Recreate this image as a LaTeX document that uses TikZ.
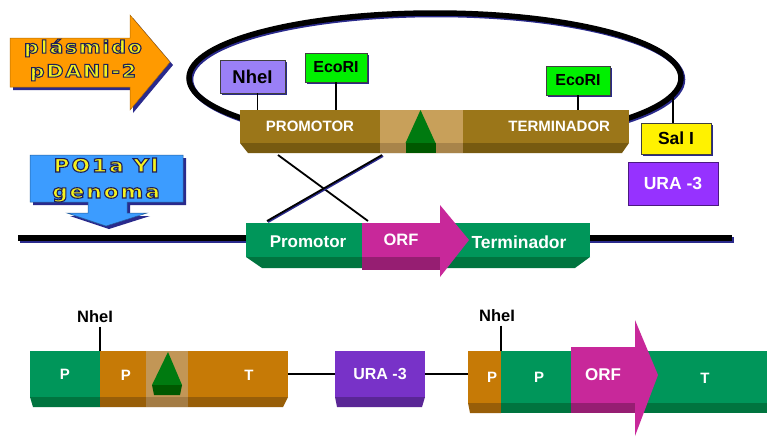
\documentclass[tikz,border=0pt]{standalone}
\usepackage{fontspec}
\setmainfont{Liberation Sans}
\newfontfamily\bannerfont[FakeStretch=1.18,LetterSpace=10]{DejaVu Sans}
\usetikzlibrary{shadows}
% yellow letters with a dark rim, set as one text
\newcommand{\rimtext}[1]{\special{pdf:literal direct 0.12 0.12 0.35 RG 1.1 w 2 Tr}#1\special{pdf:literal direct 0 Tr}}

\definecolor{arroworange}{HTML}{FF9A00}
\definecolor{arrowblue}{HTML}{3C9CFF}
\definecolor{shadowblue}{HTML}{2A2A8C}
\definecolor{banneryellow}{HTML}{F4F21E}
\definecolor{plasbrown}{HTML}{9B7619}
\definecolor{plasbevel}{HTML}{775A10}
\definecolor{plaslight}{HTML}{C8A05A}
\definecolor{plaslightbevel}{HTML}{A8844A}
\definecolor{cassbrown}{HTML}{C67A06}
\definecolor{cassbevel}{HTML}{985E08}
\definecolor{casslight}{HTML}{C29656}
\definecolor{casslightbevel}{HTML}{A47C44}
\definecolor{genegreen}{HTML}{00965A}
\definecolor{genebevel}{HTML}{00743F}
\definecolor{orfmag}{HTML}{C8289A}
\definecolor{orfbevel}{HTML}{961E72}
\definecolor{tridark}{HTML}{005800}
\definecolor{trigreen}{HTML}{007A10}
\definecolor{nhepurple}{HTML}{9A80F6}
\definecolor{ecogreen}{HTML}{00F000}
\definecolor{uratop}{HTML}{9632FF}
\definecolor{urabottom}{HTML}{7832C8}
\definecolor{urabevel}{HTML}{5A2696}

\begin{document}
\begin{tikzpicture}[x=1pt,y=-1pt]
\tikzset{
  segment/.style={rectangle,inner sep=0pt,outer sep=0pt,text=white,font=\bfseries\fontsize{15}{17}\selectfont},
  tagbox/.style={rectangle,draw=black!75,line width=0.6pt,inner sep=0pt,font=\bfseries\fontsize{16}{18}\selectfont,
    drop shadow={fill=shadowblue,shadow xshift=2pt,shadow yshift=-2pt,opacity=1}},
  tagline/.style={draw=black,line width=1.4pt},
  linker/.style={draw=black,line width=1.3pt},
  celltext/.style={text=white,font=\bfseries\fontsize{15}{17}\selectfont},
  sitetext/.style={text=black,font=\bfseries\fontsize{16.5}{18}\selectfont},
  bannertext/.style={text=banneryellow,align=center,font=\bannerfont\bfseries\fontsize{17.5}{24}\selectfont}
}
\useasboundingbox (0,0) rectangle (767,437);
\fill[white] (0,0) rectangle (767,437);

% banner arrows
\fill[shadowblue] (13,41) -- (133,41) -- (133,18) -- (173,65) -- (133,113) -- (133,90) -- (13,90) -- cycle;
\filldraw[fill=arroworange,draw=arroworange!70!black,line width=0.5pt]
  (10,38) -- (130,38) -- (130,15) -- (170,62) -- (130,110) -- (130,87) -- (10,87) -- cycle;
\node[bannertext] (n_plasmid) at (83,60) {\rimtext{plásmido}\\\rimtext{pDANI-2}};

\fill[shadowblue] (33,158) -- (186,158) -- (186,205) -- (130,205) -- (130,216) -- (150,216) -- (109,229) -- (70,216) -- (91,216) -- (91,205) -- (33,205) -- cycle;
\filldraw[fill=arrowblue,draw=arrowblue!60!black,line width=0.5pt]
  (30,155) -- (183,155) -- (183,202) -- (127,202) -- (127,213) -- (147,213) -- (106,226) -- (67,213) -- (88,213) -- (88,202) -- (30,202) -- cycle;
\node[bannertext,font=\bannerfont\bfseries\fontsize{18.5}{26}\selectfont] (n_genome) at (106,180) {\rimtext{PO1a Yl}\\\rimtext{genoma}};

% plasmid ring
\draw[shadowblue,line width=5.5pt] (436.5,79.5) ellipse [x radius=246,y radius=65];
\draw[black,line width=5.5pt] (435,78) ellipse [x radius=246,y radius=65];

% plasmid cassette
\node[segment,minimum width=140,minimum height=33,fill=plasbrown] (n_prom) at (310,126.5) {PROMOTOR};
\node[segment,minimum width=83,minimum height=33,fill=plaslight] (n_mid) at (421.5,126.5) {};
\node[segment,minimum width=166,minimum height=33,fill=plasbrown,text width=128,align=right,inner xsep=19] (n_term) at (546,126.5) {TERMINADOR};
\fill[plasbevel] (n_prom.south west) -- (n_term.south east) -- ([xshift=-7pt,yshift=-10pt]n_term.south east) -- ([xshift=8pt,yshift=-10pt]n_prom.south west) -- cycle;
\fill[plaslightbevel] (n_mid.south west) rectangle ([yshift=-10pt]n_mid.south east);
\fill[trigreen] ([xshift=-16pt]n_mid.south) -- ([xshift=14pt]n_mid.south) -- ([xshift=-1pt]n_mid.north) -- cycle;
\fill[tridark] ([xshift=-16pt]n_mid.south) rectangle ([xshift=14pt,yshift=-10pt]n_mid.south);

% restriction sites
\node[tagbox,fill=nhepurple,minimum width=65,minimum height=33,font=\bfseries\fontsize{18.5}{20}\selectfont] (n_nhe1) at (252.5,76.5) {NheI};
\node[tagbox,fill=ecogreen,minimum width=62,minimum height=29] (n_eco1) at (336,67.5) {EcoRI};
\node[tagbox,fill=ecogreen,minimum width=64,minimum height=29] (n_eco2) at (578,80.5) {EcoRI};
\node[tagbox,fill=yellow,minimum width=70,minimum height=31,font=\bfseries\fontsize{17.5}{19}\selectfont] (n_sal) at (676,138.5) {Sal I};
\node[segment,fill=uratop,draw=uratop!50!black,line width=0.6pt,minimum width=90,minimum height=43,font=\bfseries\fontsize{17.5}{19}\selectfont] (n_ura1) at (673,183.5) {URA -3};
\coordinate (n_salcut) at (673,95);
\draw[tagline] ([xshift=5pt]n_nhe1.south) -- ([xshift=5pt]n_nhe1.south |- n_prom.north);
\draw[tagline] (n_eco1.south) -- (n_eco1.south |- n_prom.north);
\draw[tagline] (n_eco2.south) -- (n_eco2.south |- n_term.north);
\draw[tagline] (n_salcut) -- (n_salcut |- n_sal.north);

% crossover
\coordinate (n_xa1) at (278,155);
\coordinate (n_xa2) at (368,221);
\coordinate (n_xb1) at (382,155);
\coordinate (n_xb2) at (267,221);
\draw[linker,line width=1.8pt] (n_xa1) -- (n_xa2);
\draw[shadowblue,line width=2pt] ([xshift=1pt,yshift=-1pt]n_xb1) -- ([xshift=1pt,yshift=-1pt]n_xb2);
\draw[linker,line width=1.8pt] (n_xb1) -- (n_xb2);

% genome
\coordinate (n_gl) at (18,238);
\coordinate (n_gr) at (732,238);
\draw[shadowblue,line width=6pt] ([xshift=1.5pt,yshift=-1.5pt]n_gl) -- ([xshift=1.5pt,yshift=-1.5pt]n_gr);
\draw[black,line width=6pt] (n_gl) -- (n_gr);
\node[segment,fill=genegreen,minimum width=344,minimum height=34] (n_gene) at (418,240) {};
\fill[genebevel] (n_gene.south west) -- (n_gene.south east) -- ([xshift=-15pt,yshift=-11pt]n_gene.south east) -- ([xshift=16pt,yshift=-11pt]n_gene.south west) -- cycle;
\node[segment,fill=orfmag,minimum width=78,minimum height=34,font=\bfseries\fontsize{16.5}{18}\selectfont] (n_gorf) at (401,240) {ORF};
\fill[orfbevel] (n_gorf.south west) rectangle ([yshift=-13pt]n_gorf.south east);
\fill[orfmag] ([yshift=18pt]n_gorf.north east) -- ([xshift=29pt]n_gorf.east) -- ([yshift=-20pt]n_gorf.south east) -- cycle;
\node[celltext,font=\bfseries\fontsize{17}{19}\selectfont] (n_gprom) at (308,242) {Promotor};
\node[celltext,font=\bfseries\fontsize{17.5}{19}\selectfont] (n_gterm) at (519,242) {Terminador};

% integrated cassette
\node[segment,fill=genegreen,minimum width=70,minimum height=46] (n_bp1) at (65,374) {P};
\node[segment,fill=cassbrown,minimum width=188,minimum height=46] (n_bb) at (194,374) {};
\node[segment,fill=casslight,minimum width=42,minimum height=46] (n_bl) at (167,374) {};
\fill[genebevel] (n_bp1.south west) -- (n_bp1.south east) -- ([yshift=-10pt]n_bp1.south east) -- ([xshift=3pt,yshift=-10pt]n_bp1.south west) -- cycle;
\fill[cassbevel] (n_bb.south west) -- (n_bb.south east) -- ([xshift=-5pt,yshift=-10pt]n_bb.south east) -- ([yshift=-10pt]n_bb.south west) -- cycle;
\fill[casslightbevel] (n_bl.south west) rectangle ([yshift=-10pt]n_bl.south east);
\fill[trigreen] ([xshift=-15pt,yshift=12pt]n_bl.south) -- ([xshift=15pt,yshift=12pt]n_bl.south) -- ([xshift=1pt,yshift=-1pt]n_bl.north) -- cycle;
\fill[tridark] ([xshift=-15pt,yshift=12pt]n_bl.south) -- ([xshift=15pt,yshift=12pt]n_bl.south) -- ([xshift=13pt,yshift=2pt]n_bl.south) -- ([xshift=-13pt,yshift=2pt]n_bl.south) -- cycle;
\node[celltext] (n_bpt) at (126,375) {P};
\node[celltext] (n_btt) at (249,375) {T};

\node[segment,fill=urabottom,minimum width=90,minimum height=46,font=\bfseries\fontsize{16}{18}\selectfont] (n_ura2) at (380,374) {URA -3};
\fill[urabevel] (n_ura2.south west) -- (n_ura2.south east) -- ([xshift=-3pt,yshift=-10pt]n_ura2.south east) -- ([xshift=2pt,yshift=-10pt]n_ura2.south west) -- cycle;

\node[segment,fill=cassbrown,minimum width=33,minimum height=52] (n_bp2) at (484.5,377) {};
\node[segment,fill=genegreen,minimum width=266,minimum height=52] (n_bg) at (634,377) {};
\fill[cassbevel] (n_bp2.south west) -- (n_bp2.south east) -- ([yshift=-10pt]n_bp2.south east) -- ([xshift=2pt,yshift=-10pt]n_bp2.south west) -- cycle;
\fill[genebevel] (n_bg.south west) rectangle ([yshift=-10pt]n_bg.south east);
\node[segment,fill=orfmag,minimum width=64,minimum height=56,font=\bfseries\fontsize{17}{19}\selectfont] (n_borf) at (603,375) {ORF};
\fill[orfbevel] (n_borf.south west) rectangle ([yshift=-10pt]n_borf.south east);
\fill[orfmag] ([yshift=27pt]n_borf.north east) -- ([xshift=23pt]n_borf.east) -- ([yshift=-33pt]n_borf.south east) -- cycle;
\node[celltext] (n_bp2t) at (492,377) {P};
\node[celltext] (n_bgp) at (539,377) {P};
\node[celltext] (n_bgt) at (705,378) {T};

\draw[linker] (n_bb.east) -- (n_ura2.west);
\draw[linker] (n_ura2.east) -- (n_bp2.west |- n_ura2.east);

\node[sitetext] (n_nhe2) at (95,317) {NheI};
\node[sitetext] (n_nhe3) at (497,316) {NheI};
\draw[tagline] (n_bb.north west |- n_nhe2.south) -- (n_bb.north west);
\draw[tagline] (n_bg.north west |- n_nhe3.south) -- (n_bg.north west);
\end{tikzpicture}
\end{document}
